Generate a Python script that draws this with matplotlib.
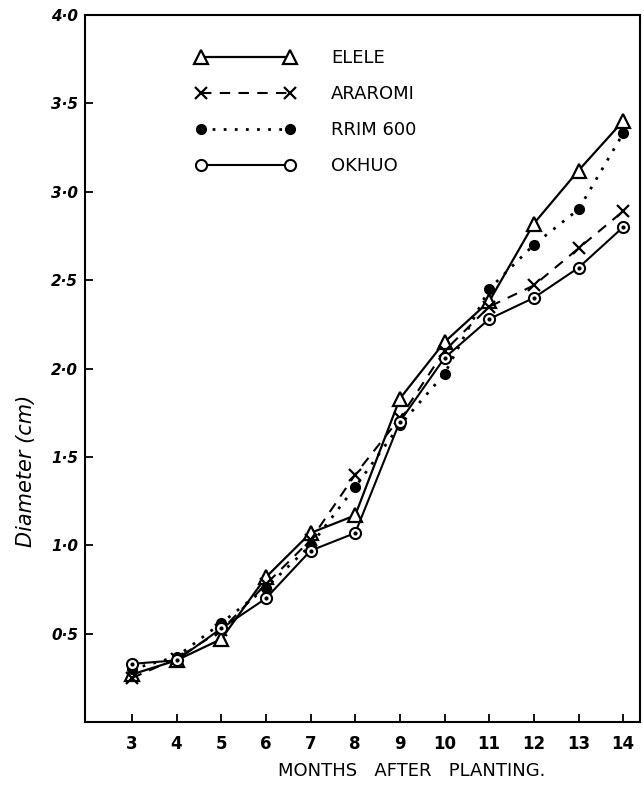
import matplotlib
matplotlib.use("Agg")
import matplotlib.pyplot as plt

# months after planting and stem diameter (cm) per clone
months = [3, 4, 5, 6, 7, 8, 9, 10, 11, 12, 13, 14]
elele = [0.27, 0.35, 0.47, 0.82, 1.07, 1.17, 1.83, 2.15, 2.38, 2.82, 3.12, 3.40]
araromi = [0.25, 0.36, 0.52, 0.78, 1.03, 1.40, 1.72, 2.10, 2.35, 2.47, 2.68, 2.89]
rrim600 = [0.30, 0.37, 0.56, 0.76, 1.00, 1.33, 1.68, 1.97, 2.45, 2.70, 2.90, 3.33]
okhuo = [0.33, 0.35, 0.53, 0.70, 0.97, 1.07, 1.70, 2.06, 2.28, 2.40, 2.57, 2.80]

y_ticks = [0.5, 1.0, 1.5, 2.0, 2.5, 3.0, 3.5, 4.0]
y_tick_labels = ["0·5", "1·0", "1·5", "2·0", "2·5", "3·0", "3·5", "4·0"]

fig = plt.figure(figsize=(6.44, 7.85), dpi=100)
ax = fig.add_axes([0.132, 0.080, 0.862, 0.901])

ax.plot(months, elele, color="black", linewidth=1.6,
        marker="^", markersize=10, markerfacecolor="white",
        markeredgewidth=1.6, label="ELELE")
ax.plot(months, araromi, color="black", linewidth=1.5, linestyle=(0, (5, 4)),
        marker="x", markersize=8, markeredgewidth=1.6, label="ARAROMI")
ax.plot(months, rrim600, color="black", linewidth=2.0, linestyle=(0, (1, 3)),
        marker="o", markersize=7, label="RRIM 600")
ax.plot(months, okhuo, color="black", linewidth=1.5,
        marker="o", markersize=8, markerfacecolor="white",
        markeredgewidth=1.5, label="OKHUO")
ax.plot(months, okhuo, linestyle="none", marker="o", markersize=2,
        color="black")

ax.set_xlim(1.95, 14.38)
ax.set_ylim(0, 4.0)
ax.set_xticks(months)
ax.set_xticklabels([str(m) for m in months], fontsize=12, fontweight="bold")
ax.set_yticks(y_ticks)
ax.set_yticklabels(y_tick_labels, fontsize=11, fontweight="bold",
                   fontstyle="italic")
ax.tick_params(axis="x", direction="in", length=6, width=1.3, pad=9)
ax.tick_params(axis="y", direction="in", length=6, width=1.3, pad=5)
for spine in ax.spines.values():
    spine.set_linewidth(1.5)

fig.text(0.040, 0.40, "Diameter (cm)", rotation=90, fontsize=15,
         fontstyle="italic", ha="center", va="center")
fig.text(0.64, 0.018, "MONTHS   AFTER   PLANTING.", fontsize=13,
         ha="center", va="center")

ax.legend(loc="upper left", bbox_to_anchor=(0.17, 0.975), frameon=False,
          numpoints=2, handlelength=5.5, handletextpad=2.0,
          labelspacing=1.0, fontsize=13)

fig.savefig("out.png", dpi=100)
